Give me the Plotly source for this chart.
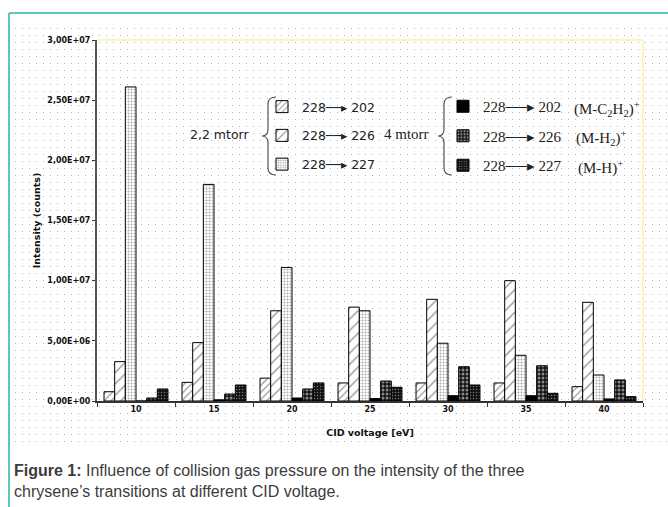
import base64
import plotly.graph_objects as go

# ---------------- data ----------------
voltages = ["10", "15", "20", "25", "30", "35", "40"]
p22_202 = [0.77e6, 1.55e6, 1.9e6, 1.5e6, 1.5e6, 1.5e6, 1.19e6]
p22_226 = [3.27e6, 4.85e6, 7.5e6, 7.8e6, 8.45e6, 10.0e6, 8.2e6]
p22_227 = [26.1e6, 18.0e6, 11.1e6, 7.5e6, 4.8e6, 3.8e6, 2.16e6]
p4_202 = [0.0, 0.1e6, 0.25e6, 0.2e6, 0.44e6, 0.44e6, 0.17e6]
p4_226 = [0.25e6, 0.58e6, 1.0e6, 1.66e6, 2.85e6, 2.93e6, 1.75e6]
p4_227 = [1.0e6, 1.33e6, 1.5e6, 1.14e6, 1.33e6, 0.64e6, 0.36e6]

y_tickvals = [0, 5e6, 1e7, 1.5e7, 2e7, 2.5e7, 3e7]
y_ticktext = ["0,00E+00", "5,00E+06", "1,00E+07", "1,50E+07", "2,00E+07", "2,50E+07", "3,00E+07"]

series_names_22 = ["228\u2500\u2500\u25B8 202", "228\u2500\u2500\u25B8 226", "228\u2500\u2500\u25B8 227"]
series_names_4 = ["228\u2500\u2500\u25B8 202", "228\u2500\u2500\u25B8 226", "228\u2500\u2500\u25B8 227"]
ion_labels = ["(M-C<sub>2</sub>H<sub>2</sub>)<sup>+</sup>", "(M-H<sub>2</sub>)<sup>+</sup>", "(M-H)<sup>+</sup>"]

# ---------------- geometry helpers ----------------
W, H = 668, 507
L, R, T, B = 97, 643, 40, 401  # plot area in pixels


def px(x):
    return (x - L) / (R - L)


def py(y):
    return (B - y) / (B - T)


fig = go.Figure()

styles = [
    dict(color="white", pattern=dict(shape="/", size=5, solidity=0.25, fgcolor="#333", bgcolor="white")),
    dict(color="white", pattern=dict(shape="/", size=8, solidity=0.18, fgcolor="#333", bgcolor="white")),
    dict(color="white", pattern=dict(shape=".", size=3, solidity=0.35, fgcolor="#555", bgcolor="white")),
    dict(color="black"),
    dict(color="black", pattern=dict(shape=".", size=4, solidity=0.45, fgcolor="white", bgcolor="#111")),
    dict(color="black", pattern=dict(shape=".", size=3, solidity=0.2, fgcolor="#ddd", bgcolor="#111")),
]
vals = [p22_202, p22_226, p22_227, p4_202, p4_226, p4_227]
names = series_names_22 + series_names_4
for i, (v, st, nm) in enumerate(zip(vals, styles, names)):
    fig.add_trace(go.Bar(
        x=voltages, y=v, name=nm,
        marker=dict(line=dict(color="black", width=1), **st),
        legend="legend" if i < 3 else "legend2",
        legendgroup=f"g{i}",
    ))

# dotted background pattern as an inline SVG image
bw, bh = 656, 422
svg = (f'<svg xmlns="http://www.w3.org/2000/svg" width="{bw}" height="{bh}">'
       '<defs><pattern id="p" width="7" height="7" patternUnits="userSpaceOnUse">'
       '<rect x="3" y="3" width="1" height="1" fill="#b5b5b5"/></pattern></defs>'
       '<rect width="100%" height="100%" fill="url(#p)"/></svg>')
uri = "data:image/svg+xml;base64," + base64.b64encode(svg.encode()).decode()
fig.add_layout_image(dict(source=uri, xref="paper", yref="paper", x=px(12), y=py(25),
                          sizex=bw / (R - L), sizey=bh / (B - T), xanchor="left", yanchor="top",
                          sizing="stretch", layer="below"))

shapes = []
teal = "#5ec8b8"
shapes.append(dict(type="line", xref="paper", yref="paper", x0=px(9), x1=px(9), y0=py(13), y1=py(507),
                   line=dict(color=teal, width=2)))
shapes.append(dict(type="line", xref="paper", yref="paper", x0=px(9), x1=px(668), y0=py(13), y1=py(13),
                   line=dict(color=teal, width=2)))
# light yellow top/right frame
shapes.append(dict(type="line", xref="paper", yref="paper", x0=0, x1=1, y0=1, y1=1,
                   line=dict(color="#fbf1a8", width=1.5)))
shapes.append(dict(type="line", xref="paper", yref="paper", x0=1, x1=1, y0=0, y1=1,
                   line=dict(color="#fbf1a8", width=1.5)))


def brace(xt, xm, xr, yt, yb):
    ym = (yt + yb) / 2
    pts = [
        f"M {px(xr)},{py(yt)}",
        f"Q {px(xm)},{py(yt)} {px(xm)},{py(yt + 7)}",
        f"L {px(xm)},{py(ym - 7)}",
        f"Q {px(xm)},{py(ym)} {px(xt)},{py(ym)}",
        f"Q {px(xm)},{py(ym)} {px(xm)},{py(ym + 7)}",
        f"L {px(xm)},{py(yb - 7)}",
        f"Q {px(xm)},{py(yb)} {px(xr)},{py(yb)}",
    ]
    return dict(type="path", xref="paper", yref="paper", path=" ".join(pts),
                line=dict(color="#555", width=1.2))


shapes.append(brace(262, 268, 276, 97, 175))
shapes.append(brace(438, 444, 452, 97, 175))

annotations = [
    dict(text="2,2 mtorr", x=px(188), y=py(134), xref="paper", yref="paper", xanchor="left",
         yanchor="middle", showarrow=False, font=dict(family="DejaVu Sans", size=12.5, color="#222")),
    dict(text="4 mtorr", x=px(382), y=py(134), xref="paper", yref="paper", xanchor="left",
         yanchor="middle", showarrow=False, font=dict(family="Liberation Serif", size=15, color="#222")),
]
for lab, yy, xx in zip(ion_labels, [109, 138, 167], [572, 574, 576]):
    annotations.append(dict(text=lab, x=px(xx), y=py(yy), xref="paper", yref="paper", xanchor="left",
                            yanchor="middle", showarrow=False,
                            font=dict(family="Liberation Serif", size=15, color="#222")))
annotations.append(dict(
    text="<b>Figure 1:</b> Influence of collision gas pressure on the intensity of the three<br>"
         "chrysene\u2019s transitions at different CID voltage.",
    x=px(12), y=py(460), xref="paper", yref="paper", xanchor="left", yanchor="top", align="left",
    showarrow=False, font=dict(family="Liberation Sans", size=16, color="#3c3c3c")))

tickfont = dict(family="DejaVu Sans", size=8, color="#111", weight="bold")
titlefont = dict(family="DejaVu Sans", size=9.5, color="#111", weight="bold")

fig.update_layout(
    width=W, height=H, autosize=False,
    margin=dict(l=L, r=W - R, t=T, b=H - B),
    paper_bgcolor="white", plot_bgcolor="rgba(0,0,0,0)",
    barmode="group", bargap=0.18, bargroupgap=0,
    shapes=shapes, annotations=annotations,
    xaxis=dict(type="category", tickson="boundaries", ticks="outside", ticklen=4, tickcolor="#333",
               showline=True, linecolor="#333", linewidth=1.5, showgrid=False, zeroline=False,
               tickfont=tickfont,
               title=dict(text="CID voltage [eV]", font=titlefont, standoff=16)),
    yaxis=dict(range=[0, 3e7], tickvals=y_tickvals, ticktext=y_ticktext, ticks="outside", ticklen=3,
               tickcolor="#333", showline=True, linecolor="#555", linewidth=2, showgrid=False,
               zeroline=False, tickfont=tickfont,
               title=dict(text="Intensity (counts)", font=titlefont, standoff=5)),
    legend=dict(x=px(262), y=py(92), xanchor="left", yanchor="top", bgcolor="rgba(0,0,0,0)",
                font=dict(family="DejaVu Sans", size=12.5, color="#222"), tracegroupgap=9.5,
                itemwidth=30, traceorder="grouped", itemclick=False),
    legend2=dict(x=px(443), y=py(90), xanchor="left", yanchor="top", bgcolor="rgba(0,0,0,0)",
                 font=dict(family="Liberation Serif", size=15, color="#222"), tracegroupgap=7,
                 itemwidth=30, traceorder="grouped", itemclick=False),
    showlegend=True,
)

fig.write_html("out.html", config={"displayModeBar": False},
               post_script="document.body.style.margin='0px';")
